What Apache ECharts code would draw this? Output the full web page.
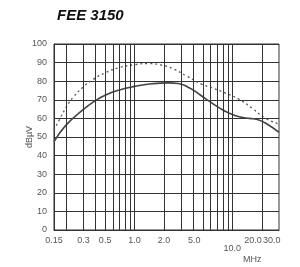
<!DOCTYPE html>
<html>
<head>
<meta charset="utf-8">
<script src="https://cdn.jsdelivr.net/npm/echarts@6/dist/echarts.min.js"></script>
<style>
  html, body { margin: 0; padding: 0; background: #fff; }
  #chart { width: 300px; height: 267px; }
</style>
</head>
<body>
<div id="chart"></div>
<script>
// frequency (MHz) / level (dBuV)
const solidCurve = [
  [0.15, 47.5], [0.2, 56.5], [0.3, 64.8], [0.4, 69.6], [0.5, 72.5], [0.7, 75.3],
  [1.0, 77.2], [1.5, 78.6], [2.2, 79.1], [2.8, 78.8], [3.7, 76.2], [4.7, 72.6],
  [5.9, 69], [7.5, 65.4], [9.4, 62.7], [12, 60.8], [15, 60], [18, 59.4],
  [22, 57.4], [30, 52.5]
]
const dashedCurve = [
  [0.15, 53.8], [0.17, 59.2], [0.2, 66], [0.237, 71.5], [0.3, 77], [0.378, 81],
  [0.5, 84.5], [0.7, 87.3], [1.0, 88.9], [1.4, 89.5], [1.9, 88.6], [2.5, 86.6],
  [3.4, 82.8], [4.9, 78.3], [6.4, 76.2], [8.6, 73.5], [11.7, 70.3], [16, 65.4],
  [21.9, 60], [30, 57]
]
const freqLabels = [0.15, 0.3, 0.5, 1, 2, 5, 10, 20, 30]
const freqGrid = [0.2, 0.3, 0.4, 0.5, 0.6, 0.7, 0.8, 0.9, 1, 2, 3, 4, 5, 6, 7, 8, 9, 10, 20]
const freqMin = 0.15
const freqMax = 30

const gridColor = '#333'
const textColor = '#555'
const labelFont = { fontFamily: 'Liberation Sans', fontSize: 9, color: textColor }

// labels in the original sit a bit off their grid lines
function freqText(v) {
  const s = v < 0.2 ? v.toFixed(2) : v.toFixed(1)
  if (Math.abs(v - 10) < 1e-6) return '{low|' + s + '}'
  if (Math.abs(v - 5) < 1e-6) return '{left9|' + s + '}'
  if (Math.abs(v - 20) < 1e-6) return '{left8|' + s + '}'
  if (v > 25) return '{left7|' + s + '}'
  return s
}
const freqRich = {
  low: Object.assign({ padding: [8, 0, 0, 0] }, labelFont),
  left9: Object.assign({ width: 1, align: 'right', padding: [0, 6, 0, 0] }, labelFont),
  left8: Object.assign({ width: 1, align: 'right', padding: [0, 1, 0, 0] }, labelFont),
  left7: Object.assign({ width: 3, align: 'right' }, labelFont)
}

// two bottom axes on the same scale so "20.0" and "30.0" don't hide each other
function freqAxis(values, lineShown) {
  return {
    type: 'log',
    logBase: 10,
    min: freqMin,
    max: freqMax,
    position: 'bottom',
    axisLine: { show: lineShown, lineStyle: { color: gridColor } },
    axisTick: { show: false },
    splitLine: { show: false },
    axisLabel: Object.assign({
      customValues: values,
      showMinLabel: true,
      showMaxLabel: true,
      margin: 6,
      formatter: freqText,
      rich: freqRich
    }, labelFont)
  }
}

const chart = echarts.init(document.getElementById('chart'))
chart.setOption({
  animation: false,
  title: {
    text: 'FEE 3150',
    left: 52,
    top: 3,
    textStyle: {
      fontFamily: 'Liberation Sans',
      fontSize: 15,
      fontWeight: 'bold',
      fontStyle: 'italic',
      color: '#111'
    }
  },
  grid: {
    left: 54,
    right: 21,
    top: 44,
    bottom: 37,
    show: true,
    borderColor: gridColor,
    borderWidth: 1
  },
  xAxis: [
    freqAxis(freqLabels.filter(f => f < freqMax), true),
    freqAxis(freqLabels.filter(f => f >= freqMax), false)
  ],
  yAxis: {
    type: 'value',
    min: 0,
    max: 100,
    interval: 10,
    name: 'dBµV',
    nameLocation: 'middle',
    nameGap: 20,
    nameMoveOverlap: false,
    nameTextStyle: labelFont,
    axisLine: { show: true, lineStyle: { color: gridColor } },
    axisTick: { show: false },
    splitLine: { lineStyle: { color: gridColor, width: 1 } },
    axisLabel: Object.assign({ margin: 7 }, labelFont)
  },
  graphic: [{
    type: 'text',
    left: 243,
    top: 255,
    style: { text: 'MHz', font: '9px "Liberation Sans"', fill: textColor }
  }],
  series: [
    {
      type: 'line',
      data: dashedCurve,
      smooth: 0.5,
      showSymbol: false,
      lineStyle: { color: '#555', width: 1.3, type: [2, 3] },
      z: 3
    },
    {
      type: 'line',
      data: solidCurve,
      smooth: 0.5,
      showSymbol: false,
      lineStyle: { color: '#444', width: 1.6 },
      z: 4,
      markLine: {
        silent: true,
        symbol: 'none',
        label: { show: false },
        lineStyle: { color: gridColor, width: 1, type: 'solid' },
        data: freqGrid.map(f => ({ xAxis: f }))
      }
    }
  ]
})
</script>
</body>
</html>
